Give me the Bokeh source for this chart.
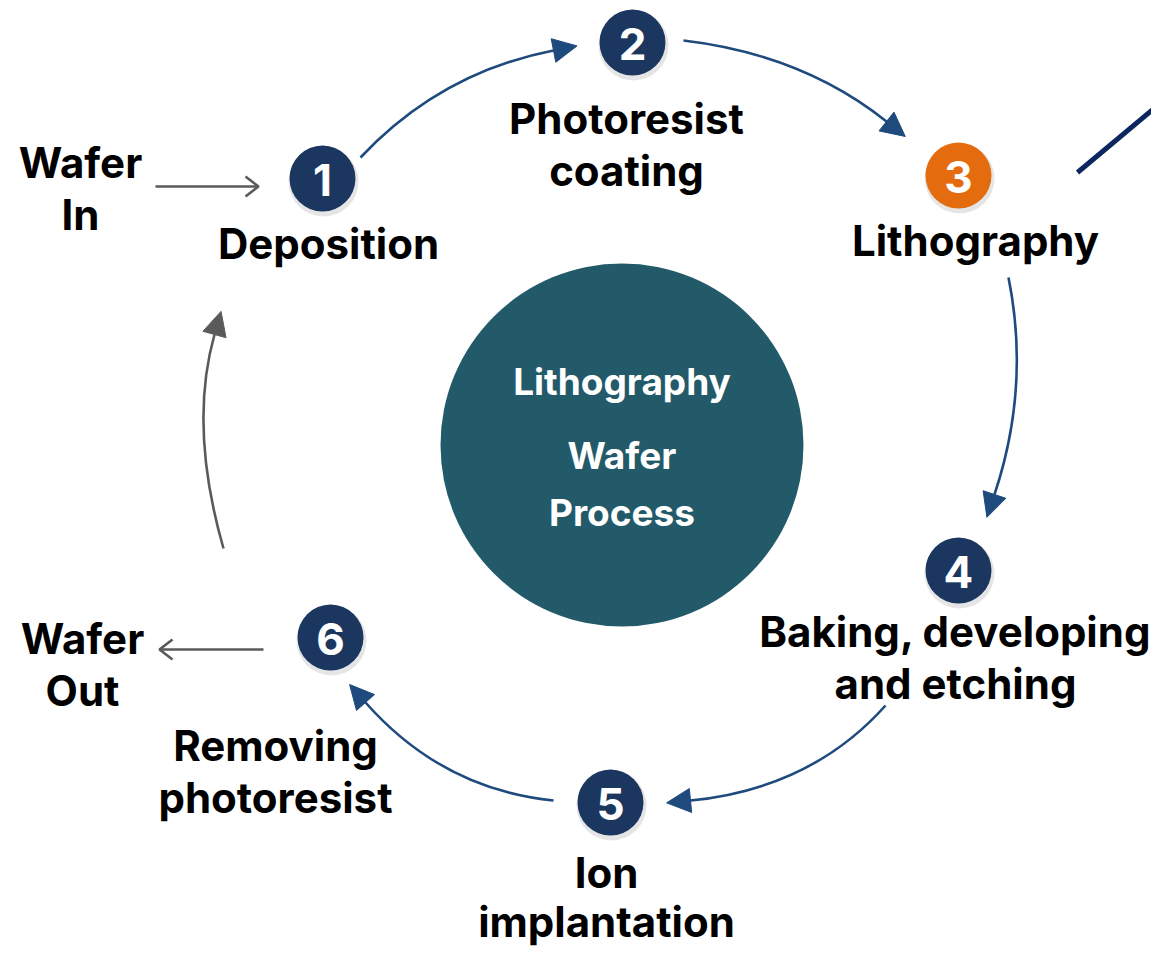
import numpy as np
from bokeh.plotting import figure
from bokeh.models import Range1d, Arrow, NormalHead
from bokeh.core.properties import value
from bokeh.embed import file_html
from bokeh.resources import INLINE

# ---- content ----
step_numbers = ["1", "2", "3", "4", "5", "6"]
step_labels = [
    ["Deposition"],
    ["Photoresist", "coating"],
    ["Lithography"],
    ["Baking, developing", "and etching"],
    ["Ion", "implantation"],
    ["Removing", "photoresist"],
]
highlight_step = "3"
center_lines = ["Lithography", "Wafer", "Process"]
wafer_in_lines = ["Wafer", "In"]
wafer_out_lines = ["Wafer", "Out"]

# ---- layout (pixel space) ----
node_x = [322, 632, 958, 958, 610, 330]
node_y = [178, 42, 175, 570, 802, 637]
node_r = 33
label_pos = [(328, 243), (626, 118), (975, 240), (955, 631), (606, 872), (275, 745)]
line_gap = [52, 52, 52, 52, 49, 52]
center_xy = (621.5, 444.5)
center_r = 181.5
center_text_y = [381, 455, 512]

NAVY = "#1b365f"
ORANGE = "#e56c0e"
TEAL = "#235a69"
ARROW = "#1f4a7e"
GREY = "#5a5a5a"
FONT = value("Inter")

p = figure(width=1151, height=947, x_range=Range1d(0, 1151), y_range=Range1d(947, 0),
           output_backend="svg", toolbar_location=None, min_border=0,
           outline_line_color=None, background_fill_color="white")
p.axis.visible = False
p.grid.visible = False

# center circle
p.circle([center_xy[0]], [center_xy[1]], radius=center_r, fill_color=TEAL, line_color=None)
p.text([center_xy[0]] * 3, center_text_y, center_lines, text_font=FONT, text_font_style="bold",
       text_font_size="37px", text_color="white", text_align="center", text_baseline="middle")

# curved flow arrows: (start, control, end-of-line)
curves = [
    ((360, 157), (440, 72), (553, 50)),
    ((683, 40), (802, 54), (886, 121)),
    ((1008, 277), (1030, 386), (994, 494)),
    ((885, 705), (811, 788), (690, 800)),
    ((553, 800), (442, 789), (365, 702)),
    ((223, 548), (188, 426), (214, 334)),
]
curve_colors = [ARROW] * 5 + [GREY]
head_len = 24
for (s, c, e), col in zip(curves, curve_colors):
    p.quadratic(x0=[s[0]], y0=[s[1]], x1=[e[0]], y1=[e[1]], cx=[c[0]], cy=[c[1]],
                line_color=col, line_width=2.6)
    d = np.array(e, float) - np.array(c, float)
    d /= np.hypot(*d)
    tip = np.array(e, float) + d * head_len
    p.add_layout(Arrow(x_start=e[0], y_start=e[1], x_end=float(tip[0]), y_end=float(tip[1]),
                       line_color=col, line_width=2.6,
                       end=NormalHead(size=head_len, fill_color=col, line_color=col, line_width=1)))

# wafer in / out straight arrows with open heads
def open_arrow(x0, x1, y):
    p.line([x0, x1], [y, y], line_color=GREY, line_width=2.6)
    sgn = 1 if x1 > x0 else -1
    p.multi_line([[x1 - sgn * 13, x1, x1 - sgn * 13]], [[y - 10, y, y + 10]],
                 line_color=GREY, line_width=2.6)

open_arrow(155, 258, 186)
open_arrow(263, 159, 649)

# decorative navy line top right
p.line([1077, 1162], [172, 101], line_color="#0c2660", line_width=5)

# node shadows + nodes
p.circle([x + 1 for x in node_x], [y + 3 for y in node_y], radius=node_r + 2,
         fill_color="black", fill_alpha=0.10, line_color=None)
node_colors = [ORANGE if n == highlight_step else NAVY for n in step_numbers]
p.circle(node_x, node_y, radius=node_r, fill_color=node_colors, line_color=None)
p.text(node_x, [y + 1 for y in node_y], step_numbers, text_font=FONT, text_font_style="bold",
       text_font_size="44px", text_color="white", text_align="center", text_baseline="middle")

# labels
lx, ly, lt = [], [], []
for (x, y), lines, g in zip(label_pos, step_labels, line_gap):
    for i, t in enumerate(lines):
        lx.append(x); ly.append(y + i * g); lt.append(t)
for (x, y), lines in [((80, 162), wafer_in_lines), ((82, 638), wafer_out_lines)]:
    for i, t in enumerate(lines):
        lx.append(x); ly.append(y + i * 52); lt.append(t)
p.text(lx, ly, lt, text_font=FONT, text_font_style="bold", text_font_size="42px",
       text_color="black", text_align="center", text_baseline="middle")

open("out.html", "w").write(file_html(p, INLINE))
